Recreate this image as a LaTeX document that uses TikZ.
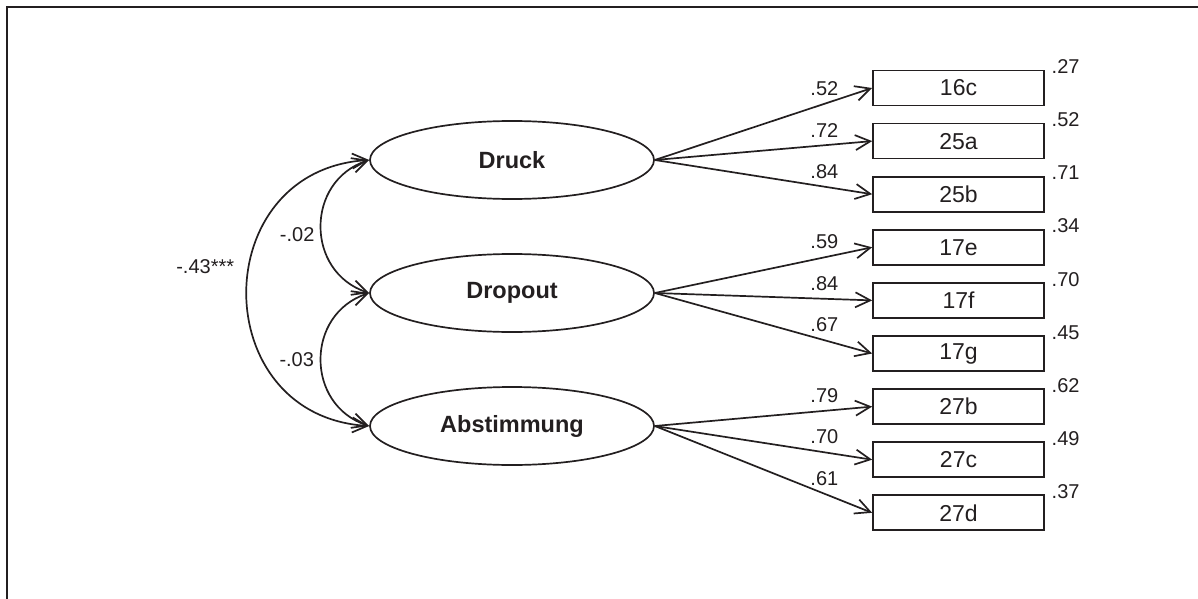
\documentclass[tikz,border=0pt]{standalone}
\usepackage{fontspec}
\setmainfont{Liberation Sans}
\usepackage{xcolor}
\usepackage{tikz}
\usetikzlibrary{positioning,shapes.geometric,arrows.meta}
\definecolor{ink}{RGB}{35,31,32}

\begin{document}
\begin{tikzpicture}[x=1pt, y=1pt, node distance=16.4pt, line width=1.7pt, color=ink,
        >={Straight Barb[length=15pt,width=15pt]},
        every node/.style={align=center},
        latent/.style={draw, ellipse, minimum width=284pt, minimum height=78pt, inner sep=0pt, font=\fontsize{23.5}{28}\selectfont\bfseries},
        item/.style={draw, rectangle, minimum width=171pt, minimum height=35pt, inner sep=0pt, font=\fontsize{23}{27}\selectfont},
        coef/.style={font=\fontsize{20}{24}\selectfont},
        rsq/.style={coef, inner sep=0pt, anchor=base west}]
            \useasboundingbox (0,0) rectangle (1198,-599);
            \draw[line width=2.2pt] (7,-599) -- (7,-7) -- (1198,-7);

            % Faktoren
            \node (druck) [latent] at (512,-160) {Druck};
            \node (dropout) [latent, below=53.3pt of druck] {Dropout};
            \node (abstimmung) [latent, below=53.3pt of dropout] {Abstimmung};

            % Items
            \node (i16c) [item] at (958.5,-88) {16c};
            \node (i25a) [item, below=of i16c] {25a};
            \node (i25b) [item, below=of i25a] {25b};
            \node (i17e) [item, below=of i25b] {17e};
            \node (i17f) [item, below=of i17e] {17f};
            \node (i17g) [item, below=of i17f] {17g};
            \node (i27b) [item, below=of i17g] {27b};
            \node (i27c) [item, below=of i27b] {27c};
            \node (i27d) [item, below=of i27c] {27d};

            % Ladungen
            \draw[->] (druck.east) -- node[coef, pos=0.78, above=4pt] (l16c) {.52} (i16c.west);
            \draw[->] (druck.east) -- node[coef, pos=0.78, above=4pt] (l25a) {.72} (i25a.west);
            \draw[->] (druck.east) -- node[coef, pos=0.78, above=4pt] (l25b) {.84} (i25b.west);
            \draw[->] (dropout.east) -- node[coef, pos=0.78, above=4pt] (l17e) {.59} (i17e.west);
            \draw[->] (dropout.east) -- node[coef, pos=0.78, above=4pt] (l17f) {.84} (i17f.west);
            \draw[->] (dropout.east) -- node[coef, pos=0.78, above=4pt] (l17g) {.67} (i17g.west);
            \draw[->] (abstimmung.east) -- node[coef, pos=0.78, above=4pt] (l27b) {.79} (i27b.west);
            \draw[->] (abstimmung.east) -- node[coef, pos=0.78, above=4pt] (l27c) {.70} (i27c.west);
            \draw[->] (abstimmung.east) -- node[coef, pos=0.78, above=4pt] (l27d) {.61} (i27d.west);

            % erklaerte Varianz
            \node (r16c) [rsq] at ([xshift=6pt, yshift=-4pt]i16c.north east) {.27};
            \node (r25a) [rsq] at ([xshift=6pt, yshift=-4pt]i25a.north east) {.52};
            \node (r25b) [rsq] at ([xshift=6pt, yshift=-4pt]i25b.north east) {.71};
            \node (r17e) [rsq] at ([xshift=6pt, yshift=-4pt]i17e.north east) {.34};
            \node (r17f) [rsq] at ([xshift=6pt, yshift=-4pt]i17f.north east) {.70};
            \node (r17g) [rsq] at ([xshift=6pt, yshift=-4pt]i17g.north east) {.45};
            \node (r27b) [rsq] at ([xshift=6pt, yshift=-4pt]i27b.north east) {.62};
            \node (r27c) [rsq] at ([xshift=6pt, yshift=-4pt]i27c.north east) {.49};
            \node (r27d) [rsq] at ([xshift=6pt, yshift=-4pt]i27d.north east) {.37};

            % Korrelationen
            \draw[<->] (druck.west) .. controls +(-64,-21) and +(-64,21) .. (dropout.west)
                node[coef, pos=0.55, left=3pt] (k12) {-.02};
            \draw[<->] (dropout.west) .. controls +(-64,-21) and +(-64,21) .. (abstimmung.west)
                node[coef, pos=0.5, left=3pt] (k23) {-.03};
            \draw[<->] (druck.west) .. controls +(-163,-10) and +(-163,10) .. (abstimmung.west)
                node[coef, pos=0.43, left=11pt] (k13) {-.43***};
        \end{tikzpicture}
\end{document}
